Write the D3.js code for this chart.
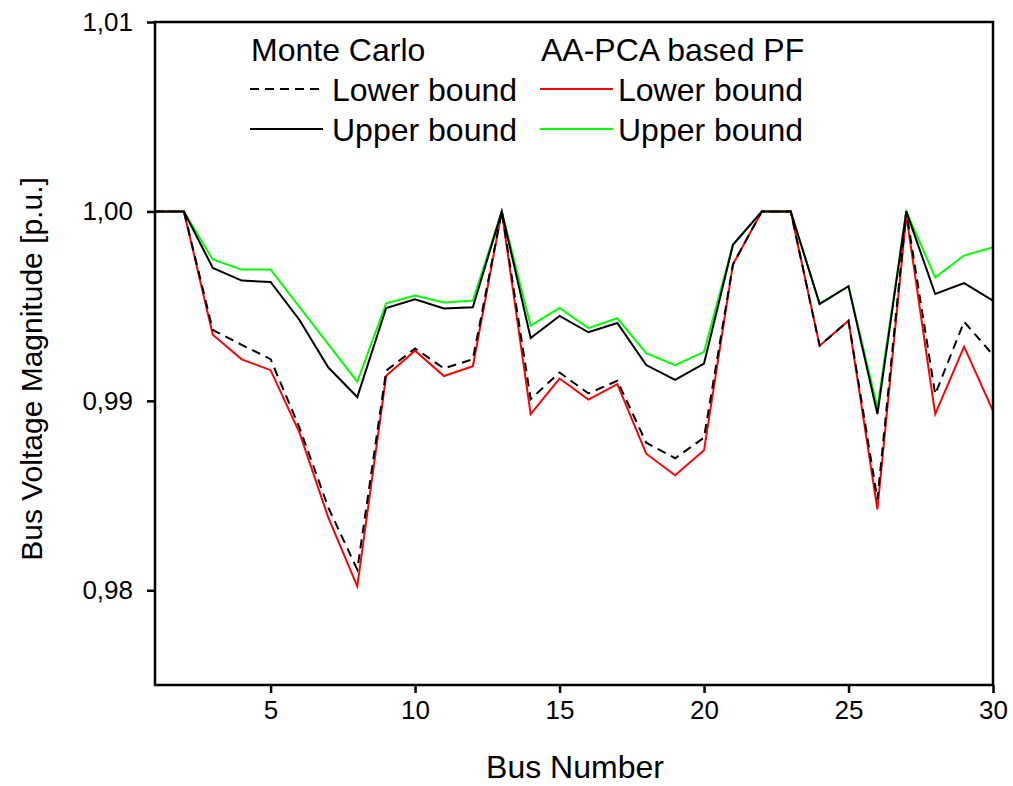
<!DOCTYPE html>
<html>
<head>
<meta charset="utf-8">
<script src="https://cdn.jsdelivr.net/npm/d3@7/dist/d3.min.js"></script>
<style>
  html, body { margin: 0; padding: 0; background: #fff; }
  svg { display: block; font-family: "Liberation Sans", Arial, sans-serif; }
</style>
</head>
<body>
<svg id="chart" width="1013" height="786"></svg>
<script>
// Bus numbers of the 30-bus system
const buses = d3.range(1, 31);

// Monte Carlo bounds
const mcLower = [1.0, 1.0, 0.99374, 0.99296, 0.9922, 0.98859, 0.98436, 0.98109, 0.99159, 0.99277,
  0.99171, 0.9922, 1.0, 0.99009, 0.9915, 0.99039, 0.99106, 0.98779, 0.98697, 0.98806,
  0.9972, 1.0, 1.0, 0.99291, 0.99423, 0.9848, 1.0, 0.99035, 0.99418, 0.99242];
const mcUpper = [1.0, 1.0, 0.99702, 0.99635, 0.99628, 0.99427, 0.99176, 0.9902, 0.9949, 0.99536,
  0.99488, 0.99494, 1.0, 0.99332, 0.99448, 0.99362, 0.99411, 0.99189, 0.99111, 0.99197,
  0.99824, 1.0, 1.0, 0.99512, 0.99605, 0.9893, 1.0, 0.99564, 0.99622, 0.99529];

// AA-PCA based power flow bounds
const aaLower = [1.0, 1.0, 0.99349, 0.99219, 0.99162, 0.98832, 0.98383, 0.98021, 0.99132, 0.99265,
  0.99131, 0.99183, 1.0, 0.9893, 0.99118, 0.99007, 0.99088, 0.98721, 0.98607, 0.98739,
  0.9972, 1.0, 1.0, 0.99291, 0.99423, 0.98427, 0.9998, 0.9893, 0.99286, 0.98947];
const aaUpper = [1.0, 1.0, 0.99746, 0.99693, 0.99693, 0.99496, 0.99298, 0.99101, 0.99515, 0.99556,
  0.99519, 0.99529, 1.0, 0.99397, 0.9949, 0.99384, 0.99436, 0.99252, 0.99189, 0.99259,
  0.99824, 1.0, 1.0, 0.99512, 0.99605, 0.98965, 1.0, 0.99652, 0.99767, 0.99811];

const xTicks = [5, 10, 15, 20, 25, 30];
const yTicks = [0.98, 0.99, 1.00, 1.01];

const svg = d3.select("#chart");
const plotLeft = 155, plotRight = 993, plotTop = 22, plotBottom = 685;

const x = d3.scaleLinear().domain([1, 30]).range([plotLeft, plotRight]);
const y = d3.scaleLinear().domain([0.975, 1.01]).range([plotBottom, plotTop]);

const fmt = v => d3.format(".2f")(v).replace(".", ",");

// series lines: AA-PCA first, Monte Carlo drawn on top
const line = d3.line().x((d, i) => x(buses[i])).y(d => y(d));
const series = [
  { values: aaUpper, color: "#00ff00", dash: null },
  { values: aaLower, color: "#ff0000", dash: null },
  { values: mcUpper, color: "#000000", dash: null },
  { values: mcLower, color: "#000000", dash: "9,6" }
];
svg.append("g").selectAll("path").data(series).join("path")
  .attr("d", s => line(s.values))
  .attr("fill", "none")
  .attr("stroke", s => s.color)
  .attr("stroke-width", 2)
  .attr("stroke-linejoin", "miter")
  .attr("stroke-dasharray", s => s.dash);

// frame
svg.append("rect")
  .attr("x", plotLeft).attr("y", plotTop)
  .attr("width", plotRight - plotLeft).attr("height", plotBottom - plotTop)
  .attr("fill", "none").attr("stroke", "#000").attr("stroke-width", 2.5);

// axes
const xAxis = svg.append("g").attr("transform", `translate(0,${plotBottom})`)
  .call(d3.axisBottom(x).tickValues(xTicks).tickSize(8).tickPadding(8));
const yAxis = svg.append("g").attr("transform", `translate(${plotLeft},0)`)
  .call(d3.axisLeft(y).tickValues(yTicks).tickFormat(fmt).tickSize(8).tickPadding(14));
[xAxis, yAxis].forEach(g => {
  g.select(".domain").remove();
  g.selectAll(".tick line").attr("stroke", "#000").attr("stroke-width", 2.5);
  g.selectAll(".tick text").attr("fill", "#000")
    .style("font-family", '"Liberation Sans", Arial, sans-serif')
    .style("font-size", "26px");
});

// axis titles
svg.append("text")
  .attr("x", 575).attr("y", 778)
  .attr("text-anchor", "middle")
  .style("font-size", "32px")
  .text("Bus Number");
svg.append("text")
  .attr("transform", "translate(42,369) rotate(-90)")
  .attr("text-anchor", "middle")
  .style("font-size", "30px")
  .text("Bus Voltage Magnitude [p.u.]");

// legend
const lg = svg.append("g").style("font-size", "32px");
lg.append("text").attr("x", 251).attr("y", 61).text("Monte Carlo");
lg.append("text").attr("x", 541).attr("y", 61).text("AA-PCA based PF");
const legendRows = [
  { x0: 250, tx: 332, cy: 89, color: "#000", dash: "9,6", label: "Lower bound" },
  { x0: 250, tx: 332, cy: 129, color: "#000", dash: null, label: "Upper bound" },
  { x0: 540, tx: 618, cy: 89, color: "#ff0000", dash: null, label: "Lower bound" },
  { x0: 540, tx: 618, cy: 129, color: "#00ff00", dash: null, label: "Upper bound" }
];
legendRows.forEach(r => {
  lg.append("line")
    .attr("x1", r.x0).attr("x2", r.x0 + 73)
    .attr("y1", r.cy).attr("y2", r.cy)
    .attr("stroke", r.color).attr("stroke-width", 2)
    .attr("stroke-dasharray", r.dash);
  lg.append("text").attr("x", r.tx).attr("y", r.cy + 12).text(r.label);
});
</script>
</body>
</html>
